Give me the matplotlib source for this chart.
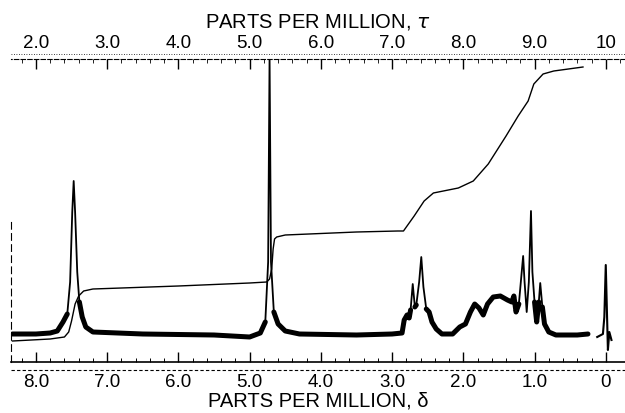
import numpy as np
import matplotlib
matplotlib.use("Agg")
from matplotlib import pyplot as plt

# spectrum trace (chemical shift in ppm, signal height)
shift = [8.33, 8.00, 7.80, 7.70, 7.62, 7.56, 7.52, 7.49, 7.47, 7.45, 7.42, 7.39,
         7.35, 7.30, 7.20, 6.50, 5.50, 5.00, 4.85, 4.78, 4.74, 4.72, 4.70, 4.66,
         4.60, 4.50, 4.30, 3.50, 3.00, 2.86, 2.83, 2.79, 2.76, 2.74, 2.71, 2.68,
         2.66, 2.62, 2.59, 2.56, 2.52, 2.48, 2.44, 2.38, 2.30, 2.15, 2.05, 1.97,
         1.90, 1.84, 1.78, 1.72, 1.66, 1.58, 1.48, 1.38, 1.32, 1.29, 1.26, 1.22,
         1.18, 1.16, 1.14, 1.11, 1.08, 1.05, 1.03, 1.00, 0.97, 0.94, 0.92, 0.89,
         0.86, 0.80, 0.70, 0.40, 0.25]
signal = [28, 28, 29, 31, 40, 48, 80, 150, 181, 150, 90, 60,
          45, 35, 30, 28, 27, 25, 29, 40, 100, 305, 100, 50,
          38, 31, 28, 27, 28, 29, 42, 47, 44, 52, 78, 55,
          57, 80, 105, 75, 53, 50, 40, 33, 28, 28, 35, 38,
          50, 58, 54, 47, 58, 65, 66, 62, 60, 66, 50, 58,
          90, 106, 80, 50, 80, 151, 90, 60, 40, 60, 79, 55,
          38, 30, 27, 27, 28]

# reference peak at 0 ppm
ref_shift = [0.12, 0.04, 0.02, 0.00, -0.02, -0.03, -0.05, -0.08]
ref_signal = [25, 28, 45, 97, 40, 12, 30, 22]

# integral trace
int_shift = [8.33, 7.80, 7.60, 7.54, 7.50, 7.45, 7.40, 7.33, 7.20, 6.00, 5.00,
             4.76, 4.72, 4.69, 4.67, 4.65, 4.62, 4.50, 3.50, 2.92, 2.84, 2.69,
             2.55, 2.42, 2.07, 1.86, 1.65, 1.40, 1.23, 1.09, 1.01, 0.88, 0.73, 0.32]
int_value = [21, 23, 25, 30, 41, 58, 66, 71, 73, 76, 79,
             80, 83, 93, 113, 123, 125, 127, 130, 131, 131, 146,
             161, 169, 174, 181, 198, 226, 246, 261, 278, 288, 291, 295]

delta_ticks = [8, 7, 6, 5, 4, 3, 2, 1, 0]
delta_labels = ["8.0", "7.0", "6.0", "5.0", "4.0", "3.0", "2.0", "1.0", "0"]
tau_ticks = [2, 3, 4, 5, 6, 7, 8, 9, 10]
tau_labels = ["2.0", "3.0", "4.0", "5.0", "6.0", "7.0", "8.0", "9.0", "10"]

plt.rcParams['font.family'] = ['Liberation Sans', 'DejaVu Sans']

fig = plt.figure(figsize=(6.25, 4.14), dpi=100)
ax = fig.add_axes([11 / 625, 51 / 414, 614 / 625, 303 / 414])

# thin trace for the peaks, thicker band where the noisy baseline is
ax.plot(shift, signal, color='black', lw=1.3)
sig = np.array(signal, dtype=float)
noisy = np.where(sig < 70, sig, np.nan)
ax.plot(shift, noisy, color='black', lw=3.6, solid_capstyle='round')
ax.plot(ref_shift, ref_signal, color='black', lw=1.5)
ax.plot(int_shift, int_value, color='black', lw=1.0)

ax.set_xlim(8.35, -0.27)
ax.set_ylim(0, 303)

# bottom ruler (delta scale)
ax.set_xticks(delta_ticks)
ax.set_xticklabels(delta_labels, fontsize=13.5)
ax.set_xticks(np.arange(0, 8.35, 0.2), minor=True)
ax.tick_params(axis='x', which='major', direction='in', length=7, width=1, pad=8)
ax.tick_params(axis='x', which='minor', direction='in', length=3, width=0.7)
ax.set_xlabel('PARTS PER MILLION, δ', fontsize=14.5, labelpad=0)
ax.plot([8.35, -0.27], [-8, -8], color='black', lw=0.8, ls=(0, (3, 2)), clip_on=False)

# top ruler (tau scale)
top = ax.secondary_xaxis('top', functions=(lambda d: 10 - d, lambda t: 10 - t))
top.set_xticks(tau_ticks)
top.set_xticklabels(tau_labels, fontsize=13.5)
top.set_xticks(np.arange(1.8, 10.3, 0.2), minor=True)
top.tick_params(axis='x', which='major', direction='in', length=7, width=1, pad=6)
top.tick_params(axis='x', which='minor', direction='in', length=3, width=0.6)
top.spines['top'].set_linewidth(0.8)
top.spines['top'].set_linestyle((0, (4, 2)))
top.set_xlabel('PARTS PER MILLION, $\\tau$', fontsize=14.5, labelpad=5)
ax.plot([8.35, -0.27], [308, 308], color='black', lw=0.6, ls=(0, (1, 2)), clip_on=False)

ax.set_yticks([])
ax.spines['right'].set_visible(False)
ax.spines['top'].set_visible(False)
ax.spines['left'].set_linestyle((0, (6, 4)))
ax.spines['left'].set_linewidth(0.8)
ax.spines['left'].set_bounds(0, 140)
ax.spines['bottom'].set_linewidth(1.2)

fig.savefig('out.png', dpi=100)
